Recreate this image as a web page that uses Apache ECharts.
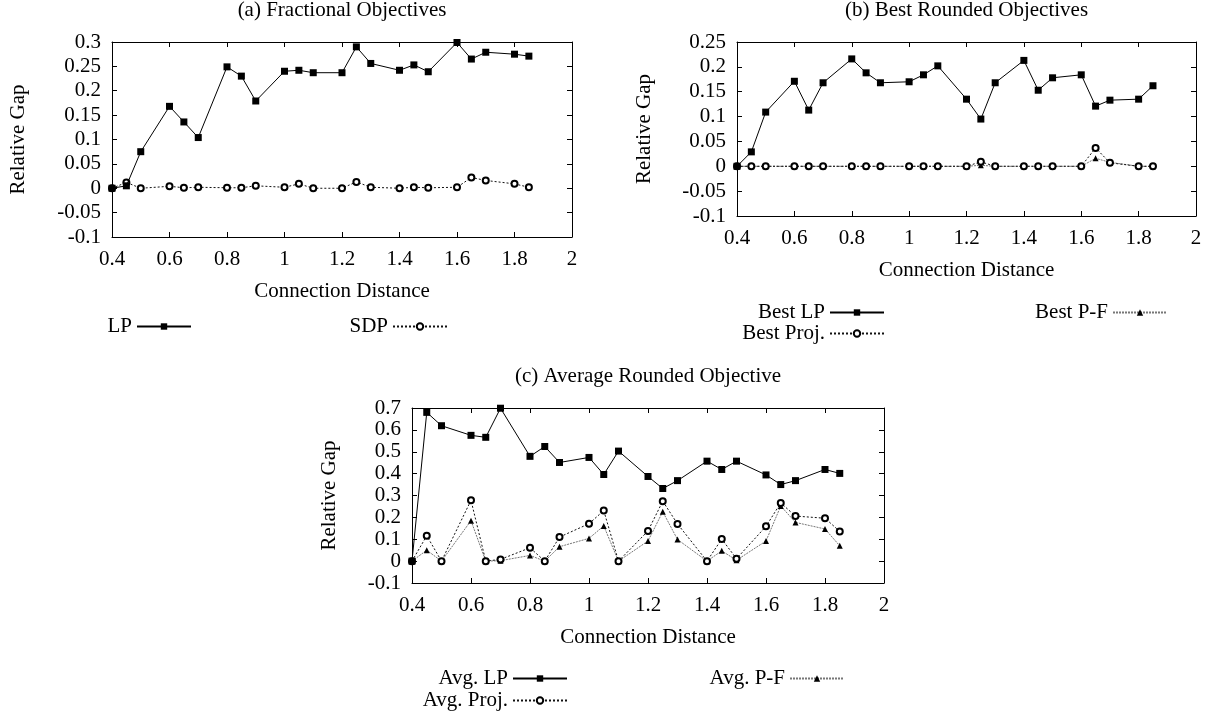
<!DOCTYPE html>
<html>
<head>
<meta charset="utf-8">
<title>Relative Gap vs Connection Distance</title>
<script src="https://cdn.jsdelivr.net/npm/echarts@6/dist/echarts.min.js"></script>
<style>
    html, body { margin: 0; padding: 0; background: #fff; }
    #chart { width: 1214px; height: 715px; }
</style>
</head>
<body>
<div id="chart"></div>
<script>
// connection distances shared by all three panels
const distances = [0.4, 0.45, 0.5, 0.6, 0.65, 0.7, 0.8, 0.85, 0.9, 1.0, 1.05, 1.1,
    1.2, 1.25, 1.3, 1.4, 1.45, 1.5, 1.6, 1.65, 1.7, 1.8, 1.85];

// (a) Fractional Objectives
const fracLp = [0, 0.005, 0.075, 0.168, 0.136, 0.104, 0.249, 0.230, 0.179, 0.240, 0.242, 0.237,
    0.237, 0.290, 0.256, 0.242, 0.253, 0.239, 0.299, 0.265, 0.279, 0.275, 0.271];
const fracSdp = [0, 0.012, 0, 0.004, 0.001, 0.002, 0.001, 0.001, 0.005, 0.002, 0.009, 0,
    0, 0.013, 0.002, 0, 0.002, 0.001, 0.002, 0.022, 0.016, 0.009, 0.002];

// (b) Best Rounded Objectives
const bestLp = [0, 0.029, 0.109, 0.171, 0.113, 0.168, 0.216, 0.188, 0.168, 0.170, 0.184, 0.202,
    0.135, 0.095, 0.168, 0.213, 0.153, 0.178, 0.184, 0.121, 0.133, 0.135, 0.162];
const bestProj = [0, 0, 0, 0, 0, 0, 0, 0, 0, 0, 0, 0,
    0, 0.009, 0, 0, 0, 0, 0, 0.037, 0.007, 0, 0];
const bestPf = [0, 0, 0, 0, 0, 0, 0, 0, 0, 0, 0, 0,
    0, 0.002, 0, 0, 0, 0, 0, 0.016, 0.008, 0, 0];

// (c) Average Rounded Objective
const avgLp = [0, 0.680, 0.619, 0.575, 0.566, 0.699, 0.479, 0.524, 0.451, 0.474, 0.396, 0.503,
    0.387, 0.332, 0.368, 0.457, 0.419, 0.457, 0.394, 0.350, 0.368, 0.419, 0.401];
const avgProj = [0, 0.116, 0, 0.278, 0, 0.008, 0.061, 0, 0.110, 0.171, 0.231, 0,
    0.138, 0.274, 0.170, 0, 0.101, 0.011, 0.159, 0.266, 0.206, 0.196, 0.136];
const avgPf = [0, 0.050, 0, 0.185, 0, 0.002, 0.026, 0, 0.066, 0.104, 0.161, 0,
    0.092, 0.226, 0.099, 0, 0.047, 0.004, 0.092, 0.252, 0.177, 0.147, 0.070];

const FONT = 'Liberation Serif';
const FS = 21;

const pairs = function (ys) {
    return distances.map(function (x, i) { return [x, ys[i]]; });
};

const fmt = function (v) {
    return String(+v.toFixed(3));
};

// plot boxes in pixels
const boxes = [
    { left: 112, top: 42, width: 460, height: 195, ymin: -0.1, ymax: 0.3, step: 0.05, nameGap: 83 },
    { left: 737, top: 42, width: 459, height: 174, ymin: -0.1, ymax: 0.25, step: 0.05, nameGap: 82 },
    { left: 412, top: 408, width: 472, height: 175, ymin: -0.1, ymax: 0.7, step: 0.1, nameGap: 72 }
];
const titles = ['(a) Fractional Objectives', '(b) Best Rounded Objectives', '(c) Average Rounded Objective'];

const grids = [];
const xAxes = [];
const yAxes = [];
const titleList = [];
boxes.forEach(function (b, i) {
    grids.push({ left: b.left, top: b.top, width: b.width, height: b.height, show: false });
    titleList.push({
        text: titles[i],
        left: b.left + b.width / 2,
        top: b.top - 42,
        padding: 0,
        textAlign: 'center',
        textStyle: { fontFamily: FONT, fontSize: FS, fontWeight: 'normal', color: '#000' }
    });
    const axisLine = { show: true, onZero: false, lineStyle: { color: '#000', width: 1 } };
    const tick = { show: true, inside: true, length: 5, lineStyle: { color: '#000' } };
    xAxes.push({
        type: 'value', gridIndex: i, position: 'bottom', min: 0.4, max: 2, interval: 0.2,
        axisLine: axisLine, axisTick: tick, splitLine: { show: false },
        axisLabel: { formatter: fmt, margin: 12, fontFamily: FONT, fontSize: FS, color: '#000' },
        name: 'Connection Distance', nameLocation: 'middle', nameGap: 44,
        nameTextStyle: { fontFamily: FONT, fontSize: FS, color: '#000' }
    });
    xAxes.push({
        type: 'value', gridIndex: i, position: 'top', min: 0.4, max: 2, interval: 0.2,
        axisLine: axisLine, axisTick: tick, splitLine: { show: false }, axisLabel: { show: false }
    });
    yAxes.push({
        type: 'value', gridIndex: i, position: 'left', min: b.ymin, max: b.ymax, interval: b.step,
        axisLine: axisLine, axisTick: tick, splitLine: { show: false },
        axisLabel: { formatter: fmt, margin: 11, fontFamily: FONT, fontSize: FS, color: '#000' },
        name: 'Relative Gap', nameLocation: 'middle', nameGap: b.nameGap,
        nameTextStyle: { fontFamily: FONT, fontSize: FS, color: '#000' }
    });
    yAxes.push({
        type: 'value', gridIndex: i, position: 'right', min: b.ymin, max: b.ymax, interval: b.step,
        axisLine: axisLine, axisTick: tick, splitLine: { show: false }, axisLabel: { show: false }
    });
});

const lpStyle = function (name, data, g) {
    return {
        name: name, type: 'line', xAxisIndex: g * 2, yAxisIndex: g * 2, data: pairs(data),
        symbol: 'rect', symbolSize: 7, z: 5,
        lineStyle: { color: '#000', width: 1, type: 'solid' },
        itemStyle: { color: '#000' }
    };
};
const projStyle = function (name, data, g) {
    return {
        name: name, type: 'line', xAxisIndex: g * 2, yAxisIndex: g * 2, data: pairs(data),
        symbol: 'emptyCircle', symbolSize: 6, z: 4,
        lineStyle: { color: '#111', width: 1, type: [2, 2] },
        itemStyle: { color: '#000', borderColor: '#000', borderWidth: 1 }
    };
};
const pfStyle = function (name, data, g) {
    return {
        name: name, type: 'line', xAxisIndex: g * 2, yAxisIndex: g * 2, data: pairs(data),
        symbol: 'triangle', symbolSize: 6, z: 3,
        lineStyle: { color: '#777', width: 1, type: [2, 1] },
        itemStyle: { color: '#000' }
    };
};

const series = [
    lpStyle('LP', fracLp, 0),
    projStyle('SDP', fracSdp, 0),
    lpStyle('Best LP', bestLp, 1),
    projStyle('Best Proj.', bestProj, 1),
    pfStyle('Best P-F', bestPf, 1),
    lpStyle('Avg. LP', avgLp, 2),
    projStyle('Avg. Proj.', avgProj, 2),
    pfStyle('Avg. P-F', avgPf, 2)
];

// one legend block per entry, anchored by the right end of its sample line
const legendSpots = [
    ['LP', 1022, 316],
    ['SDP', 766, 316],
    ['Best LP', 329, 302],
    ['Best Proj.', 329, 323],
    ['Best P-F', 46, 302],
    ['Avg. LP', 646, 668],
    ['Avg. Proj.', 646, 690],
    ['Avg. P-F', 369, 668]
];
const legends = legendSpots.map(function (s) {
    return {
        data: [s[0]], right: s[1], top: s[2], align: 'right', orient: 'horizontal',
        itemWidth: 54, itemHeight: 8, selectedMode: false, padding: 0,
        textStyle: { fontFamily: FONT, fontSize: FS, color: '#000' }
    };
});

const chart = echarts.init(document.getElementById('chart'), null, { renderer: 'canvas' });
chart.setOption({
    animation: false,
    backgroundColor: '#fff',
    title: titleList,
    legend: legends,
    grid: grids,
    xAxis: xAxes,
    yAxis: yAxes,
    series: series
});
</script>
</body>
</html>
